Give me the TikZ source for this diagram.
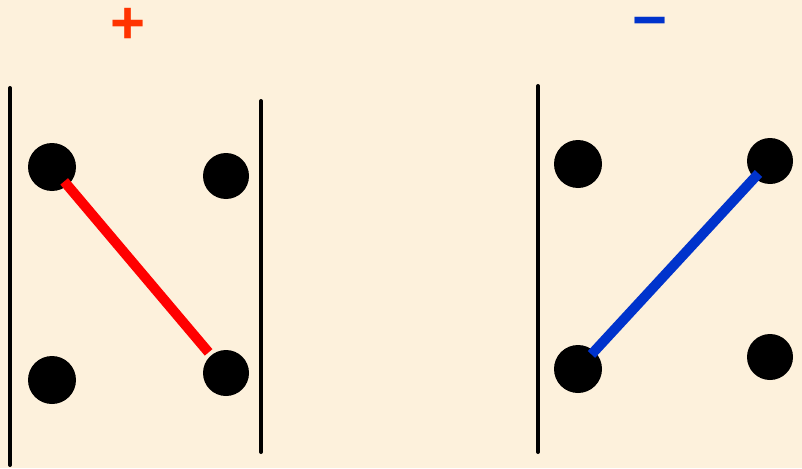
\documentclass[tikz,border=0pt]{standalone}
\usepackage{fontspec}
\setmainfont{Liberation Sans}
\usetikzlibrary{calc}
\definecolor{bg}{HTML}{FDF1DC}
\definecolor{plusred}{HTML}{FF3300}
\definecolor{minusblue}{HTML}{0033CC}
\definecolor{linkred}{HTML}{FF0000}
\tikzset{
  wall/.style={line width=4pt, line cap=round, black},
  atom/.style={circle, fill=black, inner sep=0pt, minimum size=#1},
  atom/.default=48pt,
  bond/.style={line width=10pt},
  sign/.style={font=\bfseries\fontsize{60}{60}\selectfont, inner sep=0pt}
}
\begin{document}
\begin{tikzpicture}[x=1pt,y=-1pt]
\fill[bg] (0,0) rectangle (802,468);
\useasboundingbox (0,0) rectangle (802,468);
% signs
\node[sign, text=plusred] (plus) at (128,26) {+};
\node[sign, text=minusblue] (minus) at (650,29) {−};
% walls
\coordinate (w1a) at (10,88); \coordinate (w1b) at (10,465);
\coordinate (w2a) at (261,101); \coordinate (w2b) at (261,452);
\coordinate (w3a) at (538,86); \coordinate (w3b) at (538,452);
\draw[wall] (w1a) -- (w1b);
\draw[wall] (w2a) -- (w2b);
\draw[wall] (w3a) -- (w3b);
% atoms
\node[atom] (a1) at (52,167) {};
\node[atom=46pt] (a2) at (226,176) {};
\node[atom] (a3) at (52,380) {};
\node[atom=46pt] (a4) at (226,373) {};
\node[atom] (b1) at (578,164) {};
\node[atom=46pt] (b2) at (770,161) {};
\node[atom] (b3) at (578,369) {};
\node[atom=46pt] (b4) at (770,357) {};
% bonds
\draw[bond, linkred] ($(a1)!0.07!(a4)$) -- ($(a1)!0.9!(a4)$);
\draw[bond, minusblue] ($(b3)!0.07!(b2)$) -- ($(b3)!0.94!(b2)$);
\end{tikzpicture}
\end{document}
